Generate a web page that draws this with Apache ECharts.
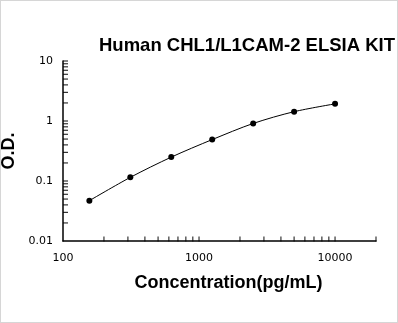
<!DOCTYPE html>
<html>
<head>
<meta charset="utf-8">
<script src="https://cdn.jsdelivr.net/npm/echarts@6/dist/echarts.min.js"></script>
<style>
  html, body { margin: 0; padding: 0; background: #fff; }
  #chart {
    width: 398px;
    height: 323px;
    box-sizing: border-box;
    border: 1px solid #d6d6d6;
  }
</style>
</head>
<body>
<div id="chart"></div>
<script>
// standard curve points
const concentration = [156.25, 312.5, 625, 1250, 2500, 5000, 10000];
const odValues = [0.047, 0.115, 0.25, 0.49, 0.91, 1.43, 1.93];

// tick and label positions (real values, shown on log10 axes)
const xTicks = [200, 300, 400, 500, 600, 700, 800, 900,
  1000, 2000, 3000, 4000, 5000, 6000, 7000, 8000, 9000, 10000, 20000];
const xLabels = [100, 1000, 10000];
const yTicks = [0.02, 0.03, 0.04, 0.05, 0.06, 0.07, 0.08, 0.09,
  0.1, 0.2, 0.3, 0.4, 0.5, 0.6, 0.7, 0.8, 0.9,
  1, 2, 3, 4, 5, 6, 7, 8, 9, 10];
const yLabels = [0.01, 0.1, 1, 10];

// axis bottoms; each axis counts decades up from its base
const xBase = 100;
const yBase = 0.01;
const toX = (v) => Math.log10(v / xBase);
const toY = (v) => Math.log10(v / yBase);
const fmt = (base) => (v) => String(Number((base * Math.pow(10, v)).toPrecision(2)));

const chart = echarts.init(document.getElementById("chart"));

const axisText = { color: "#000", fontFamily: "DejaVu Sans", fontSize: 11 };
const nameFont = { fontFamily: "Liberation Sans", fontWeight: "bold", fontSize: 18, color: "#000" };

// small tick marks sitting on the axes, placed by the axis scales
const tickSeries = (data, size, offset) => ({
  type: "scatter",
  data: data,
  symbol: "rect",
  symbolSize: size,
  symbolOffset: offset,
  clip: false,
  silent: true,
  itemStyle: { color: "#000" },
  z: 1,
});

const options = {
  animation: false,
  title: {
    text: "Human CHL1/L1CAM-2 ELSIA KIT",
    right: -3,
    top: 30,
    textStyle: Object.assign({}, nameFont, { fontSize: 18.5 }),
  },
  grid: { left: 62, right: 21, top: 60, bottom: 81, outerBoundsMode: "none", containLabel: false },
  xAxis: {
    type: "value",
    min: toX(100),
    max: toX(20000),
    name: "Concentration(pg/mL)",
    nameLocation: "middle",
    nameGap: 33,
    nameTextStyle: Object.assign({ padding: [0, 0, 0, 18] }, nameFont),
    axisLine: { show: true, onZero: false, lineStyle: { color: "#000", width: 1.5 } },
    axisTick: { show: false },
    axisLabel: Object.assign({ margin: 12, customValues: xLabels.map(toX), formatter: fmt(xBase) }, axisText),
    splitLine: { show: false },
  },
  yAxis: {
    type: "value",
    min: toY(0.01),
    max: toY(10),
    name: "O.D.",
    nameLocation: "middle",
    nameGap: 30,
    nameTextStyle: nameFont,
    axisLine: { show: true, onZero: false, lineStyle: { color: "#000", width: 1.5 } },
    axisTick: { show: false },
    axisLabel: Object.assign({ margin: 10, customValues: yLabels.map(toY), formatter: fmt(yBase) }, axisText),
    splitLine: { show: false },
  },
  series: [
    tickSeries(xTicks.map((t) => [toX(t), toY(0.01)]), [1.2, 5], [0, -2]),
    tickSeries(yTicks.map((t) => [toX(100), toY(t)]), [5, 1.2], [2.5, 0]),
    {
      type: "line",
      data: concentration.map((c, i) => [toX(c), toY(odValues[i])]),
      smooth: 0.3,
      symbol: "circle",
      symbolSize: 6,
      itemStyle: { color: "#000" },
      lineStyle: { color: "#000", width: 1 },
      z: 3,
    },
  ],
};

chart.setOption(options);
</script>
</body>
</html>
